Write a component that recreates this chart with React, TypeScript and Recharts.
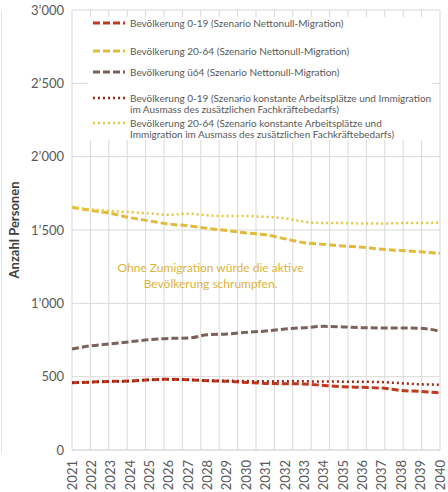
import React from 'react';
import { LineChart, Line, XAxis, YAxis, CartesianGrid, ReferenceDot } from 'recharts';

const years = ['2021','2022','2023','2024','2025','2026','2027','2028','2029','2030','2031','2032','2033','2034','2035','2036','2037','2038','2039','2040'];
const pop019Netto = [459,463,468,470,479,482,479,472,468,461,454,452,450,440,431,427,422,406,399,390];
const pop2064Netto = [1655,1633,1613,1584,1562,1540,1529,1511,1496,1480,1467,1440,1413,1402,1391,1382,1369,1360,1351,1342];
const popU64Netto = [688,711,724,738,752,761,763,786,791,802,811,825,834,843,839,834,832,832,830,809];
const pop019Konst = [459,463,468,470,479,482,479,474,472,470,468,468,468,467,466,465,463,455,448,445];
const pop2064Konst = [1655,1640,1629,1622,1613,1604,1611,1600,1595,1595,1589,1580,1556,1547,1547,1544,1544,1547,1547,1551];
const yTicks = [0,500,1000,1500,2000,2500,3000];

const seriesLabels = [
  ['Bevölkerung 0-19 (Szenario Nettonull-Migration)'],
  ['Bevölkerung 20-64 (Szenario Nettonull-Migration)'],
  ['Bevölkerung ü64 (Szenario Nettonull-Migration)'],
  ['Bevölkerung 0-19 (Szenario konstante Arbeitsplätze und Immigration', 'im Ausmass des zusätzlichen Fachkräftebedarfs)'],
  ['Bevölkerung 20-64 (Szenario konstante Arbeitsplätze und', 'Immigration im Ausmass des zusätzlichen Fachkräftebedarfs)'],
];
const annotationLines = ['Ohne Zumigration würde die aktive', 'Bevölkerung schrumpfen.'];

const data = years.map((y, i) => ({
  year: y,
  a: pop019Netto[i],
  b: pop2064Netto[i],
  c: popU64Netto[i],
  d: pop019Konst[i],
  e: pop2064Konst[i],
}));

const FONT = 'Lato, "Open Sans", sans-serif';
const RED = '#C0391E';
const YEL = '#E3BB3C';
const BRN = '#7A615B';
const DRED = '#9E2418';
const YDOT = '#E8C63E';

const styles = [
  { key: 'a', color: RED, dash: '7 3', w: 3 },
  { key: 'b', color: YEL, dash: '7 3', w: 3 },
  { key: 'c', color: BRN, dash: '7 3', w: 3 },
  { key: 'd', color: DRED, dash: '2 3', w: 2.5 },
  { key: 'e', color: YDOT, dash: '2 3', w: 2.5 },
];
const legendTops = [16.5, 44.5, 65.5, 91.5, 117];

const fmt = (v: number) => v >= 1000 ? `${Math.floor(v / 1000)}’${String(v % 1000).padStart(3, '0')}` : String(v);

const XTick = (props: any) => {
  const { x, y, payload } = props;
  return (
    <text x={x} y={y} transform={`rotate(-90 ${x} ${y})`} textAnchor="end" dy="0.35em" fill="#595959" fontSize={13} fontFamily={FONT}>
      {payload.value}
    </text>
  );
};

const YLabel = (props: any) => {
  const vb = props.viewBox;
  const cx = 19;
  const cy = vb.y + vb.height / 2;
  return (
    <text x={cx} y={cy} transform={`rotate(-90 ${cx} ${cy})`} textAnchor="middle" fill="#404040" fontSize={13} fontWeight="bold" fontFamily={FONT}>
      Anzahl Personen
    </text>
  );
};

const Annotation = (props: any) => {
  const vb = props.viewBox;
  const x = vb.x + 3;
  const y = vb.y;
  return (
    <text x={x} y={y} textAnchor="middle" fill="#E0B43A" fontSize={12} fontFamily={FONT}>
      <tspan x={x} dy="0.35em">{annotationLines[0]}</tspan>
      <tspan x={x} dy="16">{annotationLines[1]}</tspan>
    </text>
  );
};

export default function App() {
  return (
    <div style={{ position: 'absolute', left: 0, top: 0, width: 448, height: 492, background: '#fff', fontFamily: FONT }}>
      <div style={{ position: 'absolute', left: 1, top: 12, width: 1, height: 440, background: '#E2E2E2' }} />
      <LineChart width={448} height={492} data={data} margin={{ top: 10, right: 8, left: 12, bottom: 0 }}>
        <CartesianGrid
          stroke="#D9D9D9"
          strokeWidth={1}
          verticalCoordinatesGenerator={({ offset }: any) =>
            Array.from({ length: years.length + 1 }, (_, i) => offset.left + (i * offset.width) / years.length)
          }
        />
        <XAxis dataKey="year" height={42} interval={0} tick={<XTick />} tickLine={false} axisLine={{ stroke: '#D9D9D9' }} tickMargin={4} />
        <YAxis
          domain={[0, 3000]}
          ticks={yTicks}
          width={60}
          tickFormatter={fmt}
          axisLine={false}
          tickLine={false}
          tick={{ fill: '#595959', fontSize: 13, fontFamily: FONT }}
          label={{ content: <YLabel /> }}
        />
        {styles.map((s) => (
          <Line
            key={s.key}
            type="monotone"
            dataKey={s.key}
            stroke={s.color}
            strokeWidth={s.w}
            strokeDasharray={s.dash}
            dot={false}
            activeDot={false}
            isAnimationActive={false}
          />
        ))}
        <ReferenceDot x="2028" y={1241} r={0} fill="none" stroke="none" label={{ content: <Annotation /> }} />
      </LineChart>
      <div style={{ position: 'absolute', left: 88, top: 17, width: 344, height: 123, background: '#fff' }}>
        {seriesLabels.map((lines, i) => (
          <div key={i} style={{ position: 'absolute', left: 0, top: legendTops[i] - 17, display: 'flex', alignItems: 'flex-start' }}>
            <svg width={42} height={12} style={{ flex: 'none' }}>
              <line x1={5} x2={37} y1={6} y2={6} stroke={styles[i].color} strokeWidth={styles[i].w} strokeDasharray={styles[i].dash} />
            </svg>
            <div style={{ fontSize: 10, lineHeight: '11px', color: '#595959', fontFamily: FONT, whiteSpace: 'nowrap', paddingTop: 1 }}>
              {lines.map((l, j) => <div key={j}>{l}</div>)}
            </div>
          </div>
        ))}
      </div>
    </div>
  );
}
